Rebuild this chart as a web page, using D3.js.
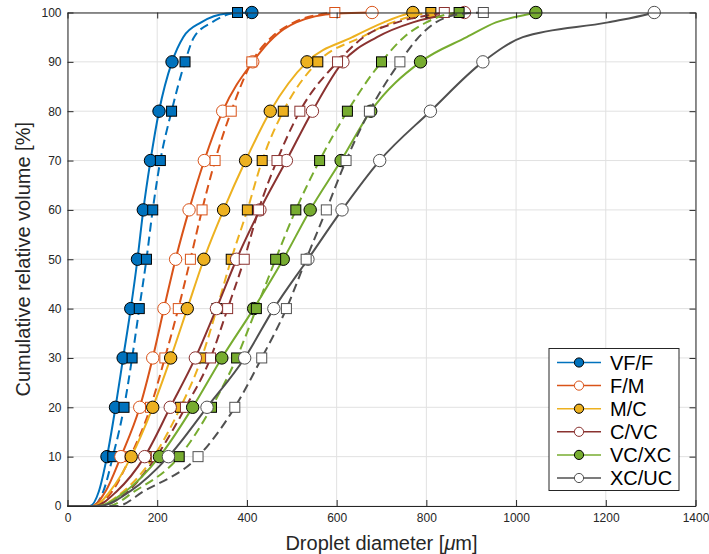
<!DOCTYPE html>
<html>
<head>
<meta charset="utf-8">
<script src="https://cdn.jsdelivr.net/npm/d3@7"></script>
<style>
  body { margin: 0; background: #fff; }
  svg { display: block; font-family: "Liberation Sans", Arial, sans-serif; }
</style>
</head>
<body>
<svg id="chart" width="709" height="554"></svg>
<script>
// cumulative volume levels [%] at which each curve is read
let pctLevels = [0, 3, 10, 20, 30, 40, 50, 60, 70, 80, 90, 95, 98, 99.8, 100];
let markerLevels = [10, 20, 30, 40, 50, 60, 70, 80, 90, 100];

let seriesNames = ['VF/F', 'F/M', 'M/C', 'C/VC', 'VC/XC', 'XC/UC'];

// droplet diameter [um] at each level, solid = circles, dashed = squares
let vfSolid   = [50, 70, 88, 107, 124, 141, 156, 169, 185, 204, 233, 258, 298, 355, 411];
let vfDashed  = [55, 80, 101, 126, 144, 160, 176, 190, 207, 232, 262, 282, 322, 365, 379];
let fmSolid   = [55, 85, 119, 161, 190, 215, 241, 271, 305, 346, 413, 460, 510, 600, 679];
let fmDashed  = [60, 100, 140, 185, 217, 247, 274, 300, 329, 365, 411, 455, 505, 575, 596];
let mcSolid   = [58, 95, 142, 190, 230, 267, 304, 348, 397, 452, 534, 635, 705, 760, 770];
let mcDashed  = [65, 125, 192, 252, 299, 333, 365, 401, 434, 481, 558, 655, 725, 795, 810];
let cvcSolid  = [60, 110, 172, 229, 285, 332, 377, 429, 488, 546, 614, 690, 770, 865, 885];
let cvcDashed = [70, 135, 198, 263, 319, 357, 394, 426, 467, 518, 602, 660, 735, 828, 840];
let vxSolid   = [65, 130, 205, 279, 344, 415, 481, 541, 610, 676, 787, 890, 955, 1035, 1044];
let vxDashed  = [90, 150, 249, 321, 377, 421, 464, 509, 562, 624, 700, 750, 800, 855, 873];
let xuSolid   = [70, 140, 225, 311, 395, 460, 536, 612, 696, 809, 926, 1015, 1205, 1300, 1308];
let xuDashed  = [110, 170, 291, 373, 433, 488, 532, 577, 621, 673, 741, 783, 821, 885, 927];

let xTicks = [0, 200, 400, 600, 800, 1000, 1200, 1400];
let yTicks = [0, 10, 20, 30, 40, 50, 60, 70, 80, 90, 100];

let solidX = [vfSolid, fmSolid, mcSolid, cvcSolid, vxSolid, xuSolid];
let dashedX = [vfDashed, fmDashed, mcDashed, cvcDashed, vxDashed, xuDashed];
let colours = ['#0072BD', '#D95319', '#EDB120', '#8A3230', '#77AC30', '#505050'];
let filled = [true, false, true, false, true, false];

let svg = d3.select('#chart');
let x = d3.scaleLinear().domain([0, 1400]).range([67.5, 695.5]);
let y = d3.scaleLinear().domain([0, 100]).range([506, 12.5]);
let axisColour = '#262626';

// grid
let grid = svg.append('g');
grid.selectAll('.gx').data(xTicks).enter().append('line')
  .attr('x1', d => x(d)).attr('x2', d => x(d))
  .attr('y1', y(0)).attr('y2', y(100))
  .attr('stroke', '#e1e1e1').attr('stroke-width', 1);
grid.selectAll('.gy').data(yTicks).enter().append('line')
  .attr('x1', x(0)).attr('x2', x(1400))
  .attr('y1', d => y(d)).attr('y2', d => y(d))
  .attr('stroke', '#e1e1e1').attr('stroke-width', 1);

let line = d3.line()
  .x(d => x(d[0]))
  .y(d => y(d[1]))
  .curve(d3.curveMonotoneX);

function curvePoints(vals) {
  return [[x.domain()[0], 0]].concat(pctLevels.map((p, i) => [vals[i], p]));
}
function markerPoints(vals) {
  return markerLevels.map(p => [vals[pctLevels.indexOf(p)], p]);
}

let plot = svg.append('g');
seriesNames.forEach(function (name, i) {
  let c = colours[i];
  let fill = filled[i] ? c : '#fff';
  let edge = filled[i] ? '#000' : c;

  // solid curve + circles
  plot.append('path')
    .attr('d', line(curvePoints(solidX[i])))
    .attr('fill', 'none').attr('stroke', c).attr('stroke-width', 2);
  plot.append('g').selectAll('circle')
    .data(markerPoints(solidX[i])).enter().append('circle')
    .attr('cx', d => x(d[0])).attr('cy', d => y(d[1])).attr('r', 6.2)
    .attr('fill', fill).attr('stroke', edge).attr('stroke-width', 1);

  // dashed curve + squares
  plot.append('path')
    .attr('d', line(curvePoints(dashedX[i])))
    .attr('fill', 'none').attr('stroke', c).attr('stroke-width', 2)
    .attr('stroke-dasharray', '9,5');
  plot.append('g').selectAll('rect')
    .data(markerPoints(dashedX[i])).enter().append('rect')
    .attr('x', d => x(d[0]) - 5).attr('y', d => y(d[1]) - 5)
    .attr('width', 10).attr('height', 10)
    .attr('fill', fill).attr('stroke', edge).attr('stroke-width', 1);
});

// axes (ticks pointing inward, box all round)
function styleAxis(g) {
  g.select('.domain').attr('stroke', axisColour);
  g.selectAll('.tick line').attr('stroke', axisColour);
  g.selectAll('.tick text').attr('fill', axisColour).attr('font-size', 12);
}
svg.append('g').attr('transform', 'translate(0,' + y(0) + ')')
  .call(d3.axisBottom(x).tickValues(xTicks).tickFormat(d3.format('d')).tickSize(-6).tickPadding(7).tickSizeOuter(0))
  .call(styleAxis);
svg.append('g').attr('transform', 'translate(0,' + y(100) + ')')
  .call(d3.axisTop(x).tickValues(xTicks).tickFormat('').tickSize(-6).tickSizeOuter(0))
  .call(styleAxis);
svg.append('g').attr('transform', 'translate(' + x(0) + ',0)')
  .call(d3.axisLeft(y).tickValues(yTicks).tickSize(-6).tickPadding(6).tickSizeOuter(0))
  .call(styleAxis);
svg.append('g').attr('transform', 'translate(' + x(1400) + ',0)')
  .call(d3.axisRight(y).tickValues(yTicks).tickFormat('').tickSize(-6).tickSizeOuter(0))
  .call(styleAxis);
svg.selectAll('.domain').attr('fill', 'none');

// axis titles
let xt = svg.append('text')
  .attr('x', (x(0) + x(1400)) / 2).attr('y', 550)
  .attr('text-anchor', 'middle').attr('font-size', 20).attr('fill', axisColour);
xt.append('tspan').text('Droplet diameter [');
xt.append('tspan').attr('font-style', 'italic').text('\u03bc');
xt.append('tspan').text('m]');

svg.append('text')
  .attr('transform', 'translate(30,' + (y(0) + y(100)) / 2 + ') rotate(-90)')
  .attr('text-anchor', 'middle').attr('font-size', 20).attr('fill', axisColour)
  .text('Cumulative relative volume [%]');

// legend
let legend = svg.append('g').attr('transform', 'translate(549,348.5)');
legend.append('rect')
  .attr('width', 130).attr('height', 142)
  .attr('fill', '#fff').attr('stroke', axisColour).attr('stroke-width', 1);
let rows = legend.selectAll('.row').data(seriesNames).enter().append('g')
  .attr('transform', (d, i) => 'translate(0,' + (14 + i * 23.1) + ')');
rows.append('line')
  .attr('x1', 8).attr('x2', 52)
  .attr('stroke', (d, i) => colours[i]).attr('stroke-width', 1.5);
rows.append('circle')
  .attr('cx', 30).attr('r', 4.6)
  .attr('fill', (d, i) => filled[i] ? colours[i] : '#fff')
  .attr('stroke', (d, i) => filled[i] ? '#000' : colours[i]).attr('stroke-width', 1);
rows.append('text')
  .attr('x', 61).attr('dy', '0.35em')
  .attr('font-size', 20).attr('fill', '#000')
  .text(d => d);
</script>
</body>
</html>
